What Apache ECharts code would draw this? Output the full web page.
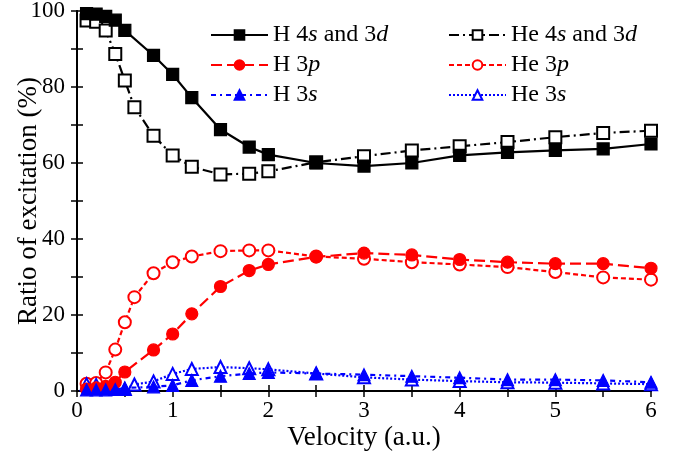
<!DOCTYPE html>
<html>
<head>
<meta charset="utf-8">
<script src="https://cdn.jsdelivr.net/npm/echarts@6/dist/echarts.min.js"></script>
<style>
html, body { margin: 0; padding: 0; background: #fff; }
#chart { width: 676px; height: 451px; }
</style>
</head>
<body>
<div id="chart"></div>
<script>
// velocities (a.u.)
var hVel = [0.1, 0.2, 0.3, 0.4, 0.5, 0.8, 1.0, 1.2, 1.5, 1.8, 2.0, 2.5, 3, 3.5, 4, 4.5, 5, 5.5, 6];
var heVel = [0.1, 0.2, 0.3, 0.4, 0.5, 0.6, 0.8, 1.0, 1.2, 1.5, 1.8, 2.0, 2.5, 3, 3.5, 4, 4.5, 5, 5.5, 6];

// ratio of excitation (%)
var h4s3d = [99.3, 99.2, 98.6, 97.6, 94.9, 88.3, 83.3, 77.2, 68.8, 64.2, 62.2, 60.0, 59.2, 60.0, 62.0, 62.8, 63.3, 63.7, 65.0];
var h3p = [0.5, 0.8, 1.2, 2.3, 5.0, 10.8, 15.0, 20.3, 27.5, 31.7, 33.3, 35.3, 36.3, 35.8, 34.6, 33.9, 33.5, 33.5, 32.3];
var h3s = [0.3, 0.3, 0.3, 0.4, 0.8, 1.1, 1.5, 2.8, 3.9, 4.6, 4.9, 4.6, 4.3, 3.9, 3.5, 3.0, 3.0, 2.8, 2.3];

var he4s3d = [97.5, 97.2, 94.9, 88.7, 81.7, 74.7, 67.2, 62.0, 59.0, 57.0, 57.2, 57.8, 60.2, 61.8, 63.3, 64.4, 65.5, 66.8, 67.9, 68.5];
var he3p = [1.9, 2.1, 4.9, 10.9, 18.1, 24.7, 31.0, 33.9, 35.4, 36.8, 37.0, 37.0, 35.4, 34.8, 33.9, 33.3, 32.6, 31.3, 29.9, 29.3];
var he3s = [1.8, 1.6, 0.8, 0.5, 0.5, 1.7, 2.5, 4.5, 5.8, 6.3, 6.0, 5.7, 4.6, 3.6, 3.0, 2.6, 2.3, 2.2, 2.0, 1.8];

// legend names (italic orbital letters via rich text)
var nameH4 = 'H 4{i|s} and 3{i|d}';
var nameH3p = 'H 3{i|p}';
var nameH3s = 'H 3{i|s}';
var nameHe4 = 'He 4{i|s} and 3{i|d}';
var nameHe3p = 'He 3{i|p}';
var nameHe3s = 'He 3{i|s}';

function pairs(xs, ys) {
	return xs.map(function (x, i) { return [x, ys[i]]; });
}

var font = 'Liberation Serif';
var chart = echarts.init(document.getElementById('chart'));

function lineSeries(name, xs, ys, color, symbol, dash, z) {
	return {
		name: name,
		type: 'line',
		data: pairs(xs, ys),
		symbol: symbol,
		symbolSize: 12,
		showSymbol: true,
		showAllSymbol: true,
		clip: false,
		z: z,
		lineStyle: { color: color, width: 2.2, type: dash },
		itemStyle: { color: color, borderColor: color, borderWidth: 1.2 }
	};
}

var legendText = {
	fontFamily: font,
	fontSize: 24,
	color: '#000',
	rich: {
		i: { fontFamily: font, fontSize: 24, fontStyle: 'italic', color: '#000' }
	}
};

var axisCommon = {
	axisLine: { lineStyle: { color: '#000', width: 2 } },
	axisTick: { inside: true, length: 6, lineStyle: { color: '#000', width: 1.5 } },
	splitLine: { show: false }
};

chart.setOption({
	animation: false,
	backgroundColor: '#fff',
	grid: { left: 77, right: 25, top: 11, bottom: 60, containLabel: false, outerBoundsMode: 'none' },
	legend: [{
		orient: 'vertical',
		left: 205,
		top: 18,
		itemWidth: 57,
		itemHeight: 12,
		itemGap: 6,
		data: [nameH4, nameH3p, nameH3s],
		formatter: function (n) { return n; },
		textStyle: legendText
	}, {
		orient: 'vertical',
		left: 443,
		top: 18,
		itemWidth: 57,
		itemHeight: 12,
		itemGap: 6,
		data: [nameHe4, nameHe3p, nameHe3s],
		formatter: function (n) { return n; },
		textStyle: legendText
	}],
	xAxis: [Object.assign({
		type: 'value',
		min: 0,
		max: 6,
		interval: 0.5,
		name: 'Velocity (a.u.)',
		nameLocation: 'middle',
		nameGap: 33,
		nameMoveOverlap: false,
		nameTextStyle: { fontFamily: font, fontSize: 27, color: '#000' },
		axisLabel: {
			margin: 8,
			fontFamily: font,
			fontSize: 23,
			color: '#000',
			formatter: function (v) { return v % 1 === 0 ? String(v) : ''; }
		}
	}, axisCommon), Object.assign({
		type: 'value',
		position: 'top',
		min: 0,
		max: 6,
		interval: 0.5,
		axisLabel: { show: false }
	}, axisCommon)],
	yAxis: [Object.assign({
		type: 'value',
		min: 0,
		max: 100,
		interval: 10,
		name: 'Ratio of excitation (%)',
		nameLocation: 'middle',
		nameGap: 35,
		nameMoveOverlap: false,
		nameTextStyle: { fontFamily: font, fontSize: 27, color: '#000' },
		axisLabel: {
			margin: 12,
			fontFamily: font,
			fontSize: 23,
			color: '#000',
			formatter: function (v) { return v % 20 === 0 ? String(v) : ''; }
		}
	}, axisCommon), Object.assign({
		type: 'value',
		position: 'right',
		min: 0,
		max: 100,
		interval: 10,
		axisLabel: { show: false }
	}, axisCommon)],
	series: [
		lineSeries(nameHe4, heVel, he4s3d, '#000', 'emptyRect', [10, 4, 2, 4], 2),
		lineSeries(nameHe3p, heVel, he3p, '#ff0000', 'emptyCircle', [5, 3], 2),
		lineSeries(nameHe3s, heVel, he3s, '#0000ff', 'emptyTriangle', [2, 2], 2),
		lineSeries(nameH4, hVel, h4s3d, '#000', 'rect', 'solid', 3),
		lineSeries(nameH3p, hVel, h3p, '#ff0000', 'circle', [11, 5], 3),
		lineSeries(nameH3s, hVel, h3s, '#0000ff', 'triangle', [5, 4, 2, 4], 3)
	]
});
</script>
</body>
</html>
